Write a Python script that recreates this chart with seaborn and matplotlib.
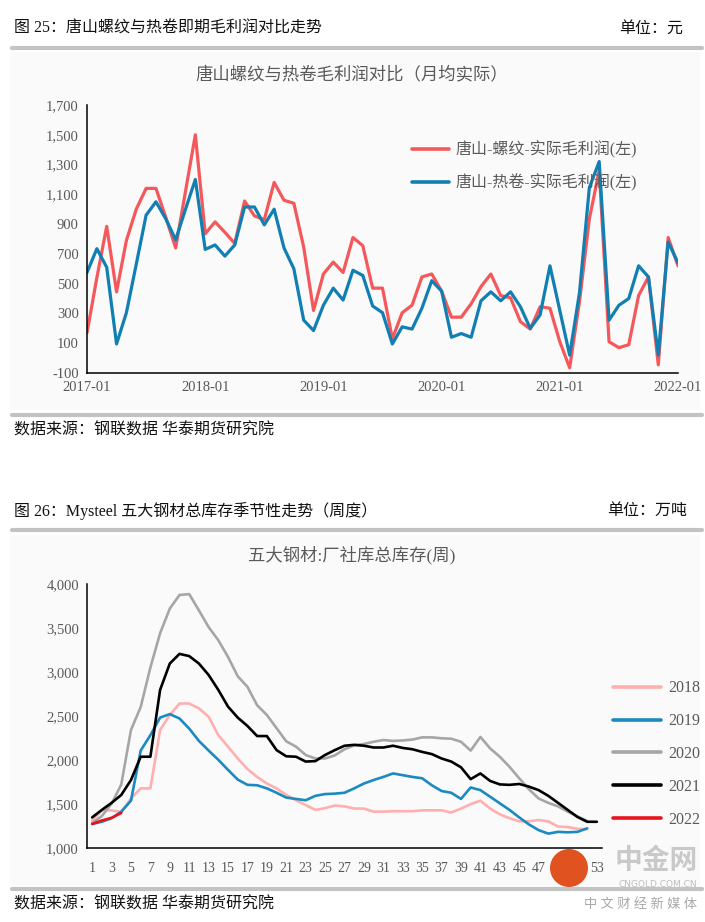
import pandas as pd
import matplotlib
matplotlib.use("Agg")
import matplotlib.pyplot as plt
import seaborn as sns
from matplotlib.lines import Line2D
from matplotlib.patches import Rectangle, Circle
from matplotlib.ticker import FixedLocator, MultipleLocator, FuncFormatter

# ---- chart 25: Tangshan rebar vs HRC gross margin, monthly 2017-01 .. 2022-01
months = pd.period_range("2017-01", "2022-01", freq="M").strftime("%Y-%m").tolist()
rebar_margin = [170, 540, 885, 445, 790, 1000, 1140, 1140, 945, 740, 1120, 1500,
                835, 915, 845, 770, 1055, 955, 930, 1180, 1060, 1040, 745, 320,
                565, 645, 575, 810, 755, 470, 470, 130, 305, 355, 545, 565,
                450, 275, 275, 365, 480, 565, 420, 405, 245, 195, 345, 335,
                110, -65, 380, 935, 1260, 110, 70, 90, 420, 545, -45, 810, 620]
hrc_margin = [575, 735, 610, 95, 305, 630, 960, 1050, 935, 795, 1000, 1200,
              730, 760, 685, 760, 1015, 1015, 895, 1000, 740, 600, 255, 185,
              355, 470, 390, 590, 555, 350, 305, 95, 210, 195, 335, 520,
              450, 140, 165, 140, 385, 445, 385, 445, 345, 200, 290, 620,
              320, 20, 440, 1145, 1320, 255, 355, 400, 620, 545, 20, 780, 640]
series_25 = ["唐山-螺纹-实际毛利润(左)", "唐山-热卷-实际毛利润(左)"]
colors_25 = ["#F4585B", "#127FB2"]
yticks_25 = list(range(-100, 1701, 200))

# ---- chart 26: five major steel products total inventory by week (10k t)
inv_2018 = [1310, 1425, 1425, 1405, 1560, 1675, 1675, 2340, 2510, 2640, 2640, 2585, 2490,
            2280, 2150, 2015, 1895, 1805, 1730, 1675, 1600, 1540, 1485, 1430, 1450, 1480,
            1470, 1445, 1445, 1410, 1410, 1415, 1415, 1415, 1425, 1425, 1425, 1400, 1445,
            1495, 1535, 1445, 1380, 1335, 1300, 1300, 1315, 1300, 1240, 1235, 1215, 1210]
inv_2019 = [1270, 1295, 1335, 1410, 1535, 2105, 2280, 2480, 2520, 2470, 2355, 2215, 2105,
            2000, 1885, 1775, 1715, 1710, 1675, 1625, 1570, 1555, 1540, 1590, 1610, 1615,
            1625, 1675, 1730, 1770, 1805, 1845, 1825, 1805, 1790, 1710, 1645, 1625, 1555,
            1685, 1655, 1580, 1505, 1430, 1345, 1265, 1200, 1160, 1180, 1175, 1180, 1220]
inv_2020 = [1280, 1360, 1500, 1720, 2340, 2600, 3050, 3440, 3720, 3875, 3885, 3700, 3510,
            3360, 3170, 2950, 2830, 2620, 2510, 2360, 2210, 2150, 2055, 2015, 2015, 2050,
            2120, 2165, 2180, 2205, 2225, 2215, 2220, 2230, 2255, 2255, 2245, 2240, 2205,
            2105, 2260, 2130, 2035, 1920, 1790, 1665, 1560, 1510, 1470, 1410, 1355, 1305]
inv_2021 = [1345, 1430, 1510, 1600, 1770, 2035, 2035, 2795, 3095, 3205, 3180, 3095, 2965,
            2795, 2605, 2480, 2385, 2270, 2270, 2110, 2040, 2035, 1980, 1985, 2055, 2110,
            2160, 2170, 2160, 2140, 2140, 2160, 2135, 2120, 2090, 2065, 2015, 1980, 1915,
            1780, 1845, 1760, 1720, 1715, 1725, 1695, 1655, 1590, 1510, 1430, 1350, 1295, 1295]
inv_2022 = [1270, 1310, 1340, 1395]
years_26 = ["2018", "2019", "2020", "2021", "2022"]
colors_26 = ["#FFAFAF", "#1A8AC0", "#A6A6A6", "#000000", "#E8141C"]
week_labels = [str(w) for w in range(1, 54, 2)]

sns.set_theme(style="white")
CJK = ["Liberation Serif", "Noto Sans CJK SC", "DejaVu Sans"]
plt.rcParams["font.family"] = CJK
GREY = "#595959"

W, H = 705, 922
fig = plt.figure(figsize=(W / 100, H / 100), dpi=100)
fx = lambda px: px / W
fy = lambda py: 1 - py / H

# light panels and separators
for top, bottom in [(52, 410), (535, 885)]:
    fig.add_artist(Rectangle((fx(10), fy(bottom)), fx(700) - fx(10), fy(top) - fy(bottom),
                             transform=fig.transFigure, facecolor="#fafafa", edgecolor="none", zorder=-5))
for yb in [48, 415, 530, 889]:
    fig.add_artist(Line2D([fx(12), fx(702)], [fy(yb), fy(yb)], lw=3, color="#c3c3c3"))

fig.text(fx(14), fy(29), "图 25：唐山螺纹与热卷即期毛利润对比走势", ha="left", va="center", size=11.5, color="#111111")
fig.text(fx(683), fy(29), "单位：元", ha="right", va="center", size=11.5, color="#111111")
fig.text(fx(14), fy(431), "数据来源：钢联数据 华泰期货研究院", ha="left", va="center", size=11.5, color="#111111")
fig.text(fx(14), fy(511), "图 26：Mysteel 五大钢材总库存季节性走势（周度）", ha="left", va="center", size=11.5, color="#111111")
fig.text(fx(687), fy(511), "单位：万吨", ha="right", va="center", size=11.5, color="#111111")
fig.text(fx(14), fy(905), "数据来源：钢联数据 华泰期货研究院", ha="left", va="center", size=11.5, color="#111111")


def style_axes(ax):
    for s in ["top", "right"]:
        ax.spines[s].set_visible(False)
    for s in ["left", "bottom"]:
        ax.spines[s].set_color("black")
        ax.spines[s].set_linewidth(1.1)
    ax.set_xlabel("")
    ax.set_ylabel("")
    ax.set_facecolor("none")
    ax.tick_params(axis="both", which="both", direction="in", color="black", width=1.0,
                   labelcolor=GREY, labelsize=10.5)
    ax.tick_params(axis="y", length=4, pad=6)
    for lab in ax.get_xticklabels() + ax.get_yticklabels():
        lab.set_fontfamily("Liberation Serif")


# ---------------- chart 25
ax1 = fig.add_axes([fx(87), fy(373), fx(678) - fx(87), fy(105) - fy(373)])
df25 = pd.DataFrame({
    "idx": list(range(len(months))) * 2,
    "value": rebar_margin + hrc_margin,
    "series": [series_25[0]] * len(months) + [series_25[1]] * len(months),
})
sns.lineplot(data=df25, x="idx", y="value", hue="series", hue_order=series_25,
             palette=dict(zip(series_25, colors_25)), linewidth=2.3, ax=ax1, legend=False)
ax1.set_xlim(0, len(months) - 1)
ax1.set_ylim(-100, 1700)
ax1.yaxis.set_major_locator(FixedLocator(yticks_25))
ax1.yaxis.set_major_formatter(FuncFormatter(lambda v, p: f"{int(v):,}"))
year_pos = list(range(0, len(months), 12))
ax1.xaxis.set_major_locator(FixedLocator(year_pos))
ax1.set_xticklabels([months[i] for i in year_pos])
ax1.xaxis.set_minor_locator(MultipleLocator(1))
style_axes(ax1)
ax1.tick_params(axis="x", which="major", length=6, pad=6)
ax1.tick_params(axis="x", which="minor", length=4)
fig.text(fx(352), fy(75), "唐山螺纹与热卷毛利润对比（月均实际）", ha="center", va="center", size=12.5, color=GREY)
h25 = [Line2D([], [], color=c, lw=2.6) for c in colors_25]
ax1.legend(h25, series_25, loc="center left", bbox_to_anchor=(fx(412), fy(166)),
           bbox_transform=fig.transFigure, frameon=False, fontsize=11.5, labelcolor=GREY,
           handlelength=2.3, handletextpad=0.45, labelspacing=0.95, borderpad=0, borderaxespad=0)

# ---------------- chart 26
ax2 = fig.add_axes([fx(87.3), fy(847.7), fx(601.7) - fx(87.3), fy(584) - fy(847.7)])
inv_all = [inv_2018, inv_2019, inv_2020, inv_2021, inv_2022]
df26 = pd.DataFrame({
    "week": [w + 1 for s in inv_all for w in range(len(s))],
    "value": [v for s in inv_all for v in s],
    "year": [y for y, s in zip(years_26, inv_all) for _ in s],
})
sns.lineplot(data=df26, x="week", y="value", hue="year", hue_order=years_26,
             palette=dict(zip(years_26, colors_26)), linewidth=1.9, ax=ax2, legend=False)
ax2.set_xlim(0.5, 53.5)
ax2.set_ylim(1000, 4000)
ax2.yaxis.set_major_locator(MultipleLocator(500))
ax2.yaxis.set_major_formatter(FuncFormatter(lambda v, p: f"{int(v):,}"))
ax2.xaxis.set_major_locator(FixedLocator(list(range(1, 54, 2))))
ax2.set_xticklabels(week_labels)
ax2.xaxis.set_minor_locator(FixedLocator([k + 0.5 for k in range(1, 54)]))
style_axes(ax2)
ax2.tick_params(axis="x", which="major", length=0, pad=10, labelsize=10)
ax2.tick_params(axis="x", which="minor", length=5)
fig.text(fx(352), fy(555), "五大钢材:厂社库总库存(周)", ha="center", va="center", size=12.5, color=GREY)
h26 = [Line2D([], [], color=c, lw=2.6) for c in colors_26]
ax2.legend(h26, years_26, loc="center left", bbox_to_anchor=(fx(613), fy(754)),
           bbox_transform=fig.transFigure, frameon=False, fontsize=11.5, labelcolor=GREY,
           handlelength=3.0, handletextpad=0.45, labelspacing=1.05, borderpad=0, borderaxespad=0)

# watermark
fig.add_artist(Circle((5.69, (H - 868) / 100), 0.19, transform=fig.dpi_scale_trans,
                      facecolor="#E0521F", edgecolor="none", zorder=5))
fig.text(fx(698), fy(862), "中金网", ha="right", va="center", size=20, weight="bold", color="#c9c9c9", zorder=5)
fig.text(fx(697), fy(884), "CNGOLD.COM.CN", ha="right", va="center", size=6.5, family="DejaVu Sans",
         color="#bdbdbd", zorder=5)
fig.text(fx(697), fy(905), "中 文 财 经 新 媒 体", ha="right", va="center", size=9.5, color="#a8a8a8", zorder=5)

fig.savefig("out.png", dpi=100)
